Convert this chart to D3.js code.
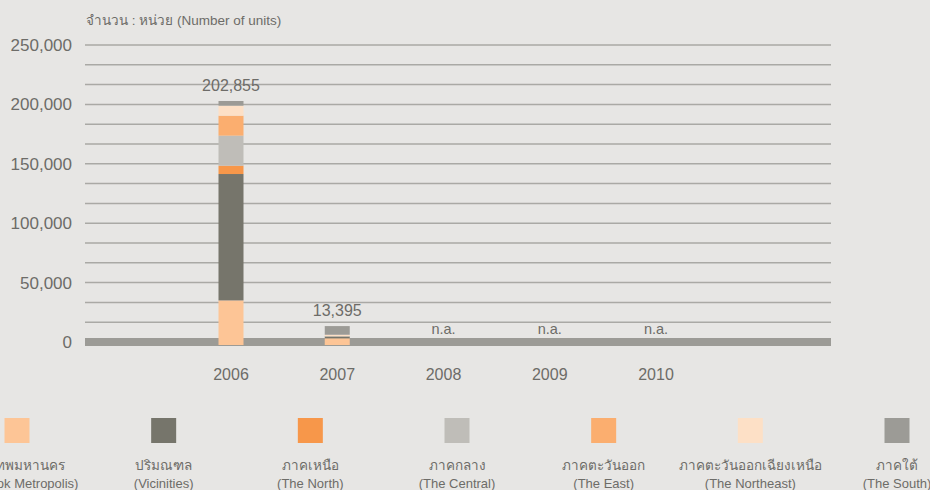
<!DOCTYPE html>
<html>
<head>
<meta charset="utf-8">
<script src="https://cdn.jsdelivr.net/npm/d3@7"></script>
<style>
  html, body { margin: 0; padding: 0; background: #e7e6e4; }
  svg { display: block; font-family: "Liberation Sans", "Noto Sans", sans-serif; }
</style>
</head>
<body>
<svg id="chart"></svg>
<script>
(() => {

  const years = ['2006', '2007', '2008', '2009', '2010'];
  const seriesKeys = ['bkk', 'vic', 'north', 'central', 'east', 'northeast', 'south'];
  const seriesThai = ['กรุงเทพมหานคร', 'ปริมณฑล', 'ภาคเหนือ', 'ภาคกลาง', 'ภาคตะวันออก', 'ภาคตะวันออกเฉียงเหนือ', 'ภาคใต้'];
  const seriesEng = ['(Bangkok Metropolis)', '(Vicinities)', '(The North)', '(The Central)', '(The East)', '(The Northeast)', '(The South)'];
  const seriesColors = ['#fdc596', '#76756b', '#f7974a', '#bfbdb8', '#fbae6f', '#fde0c6', '#9c9b96'];

  // units per region, null = not available
  const bkk       = [35000, 3145, null, null, null];
  const vic       = [106400, 1600, null, null, null];
  const north     = [7000, 0, null, null, null];
  const central   = [25300, 0, null, null, null];
  const east      = [16800, 0, null, null, null];
  const northeast = [8400, 1360, null, null, null];
  const south     = [3955, 7290, null, null, null];
  const totals    = [202855, 13395, null, null, null];

  const yTicks = [0, 50000, 100000, 150000, 200000, 250000];

  document.addEventListener("DOMContentLoaded", () => {
    const columns = [bkk, vic, north, central, east, northeast, south];
    const data = years.map((year, i) => {
      const row = { year: year, total: totals[i] };
      seriesKeys.forEach((key, k) => { row[key] = columns[k][i] || 0; });
      return row;
    });
    drawChart(data);
  });

  function drawChart(data) {
    const svgWidth = 930;
    const svgHeight = 490;
    const textColor = '#6d6c68';

    const svg = d3.select('#chart')
      .attr('width', svgWidth)
      .attr('height', svgHeight);

    const yScale = d3.scaleLinear()
      .domain([0, 250000])
      .range([342, 45]);

    const xScale = d3.scalePoint()
      .domain(years)
      .range([231, 656]);

    const barWidth = 25;
    const left = 85;
    const right = 831;

    // grid lines every third of 50,000
    const grid = d3.range(1, 16).map(i => i * 50000 / 3);
    svg.append('g')
      .selectAll('line')
      .data(grid)
      .enter()
      .append('line')
      .attr('x1', left)
      .attr('x2', right)
      .attr('y1', d => yScale(d))
      .attr('y2', d => yScale(d))
      .attr('stroke', '#aaa9a5')
      .attr('stroke-width', 1.5);

    // zero band
    svg.append('rect')
      .attr('x', left)
      .attr('y', yScale(0) - 4)
      .attr('width', right - left)
      .attr('height', 8)
      .attr('fill', '#9c9b96');

    // y tick labels
    svg.append('g')
      .selectAll('text')
      .data(yTicks)
      .enter()
      .append('text')
      .attr('x', 72)
      .attr('y', d => yScale(d))
      .attr('dy', '0.35em')
      .attr('text-anchor', 'end')
      .attr('fill', textColor)
      .style('font-size', '17px')
      .text(d => d3.format(',')(d));

    // title
    svg.append('text')
      .attr('x', 86)
      .attr('y', 25)
      .attr('fill', textColor)
      .style('font-size', '13.5px')
      .text('จำนวน : หน่วย (Number of units)');

    // stacked bars
    const stack = d3.stack().keys(seriesKeys);
    const layers = stack(data);
    const base = 3;

    svg.append('g')
      .selectAll('g')
      .data(layers)
      .enter()
      .append('g')
      .attr('fill', (d, i) => seriesColors[i])
      .selectAll('rect')
      .data(d => d.filter(s => s[1] > s[0]))
      .enter()
      .append('rect')
      .attr('x', d => xScale(d.data.year) - barWidth / 2)
      .attr('width', barWidth)
      .attr('y', d => yScale(d[1]))
      .attr('height', d => yScale(d[0]) - yScale(d[1]) + (d[0] === 0 ? base : 0));

    // value labels
    svg.append('g')
      .selectAll('text')
      .data(data)
      .enter()
      .append('text')
      .attr('x', d => xScale(d.year))
      .attr('y', d => d.total ? yScale(d.total) - 10 : yScale(0) - 8)
      .attr('text-anchor', 'middle')
      .attr('fill', textColor)
      .style('font-size', d => d.total ? '16px' : '14.5px')
      .text(d => d.total ? d3.format(',')(d.total) : 'n.a.');

    // x labels
    svg.append('g')
      .selectAll('text')
      .data(years)
      .enter()
      .append('text')
      .attr('x', d => xScale(d))
      .attr('y', 380)
      .attr('text-anchor', 'middle')
      .attr('fill', textColor)
      .style('font-size', '16px')
      .text(d => d);

    // legend
    const legendScale = d3.scalePoint()
      .domain(seriesKeys)
      .range([17, 897]);

    const legend = svg.append('g')
      .selectAll('g')
      .data(seriesKeys)
      .enter()
      .append('g')
      .attr('transform', d => `translate(${legendScale(d)}, 0)`);

    legend.append('rect')
      .attr('x', -12.5)
      .attr('y', 418)
      .attr('width', 25)
      .attr('height', 25)
      .attr('fill', (d, i) => seriesColors[i]);

    legend.append('text')
      .attr('y', 470)
      .attr('text-anchor', 'middle')
      .attr('fill', textColor)
      .style('font-size', '13.5px')
      .text((d, i) => seriesThai[i]);

    legend.append('text')
      .attr('y', 488)
      .attr('text-anchor', 'middle')
      .attr('fill', textColor)
      .style('font-size', '13px')
      .text((d, i) => seriesEng[i]);
  }

})();
</script>
</body>
</html>
